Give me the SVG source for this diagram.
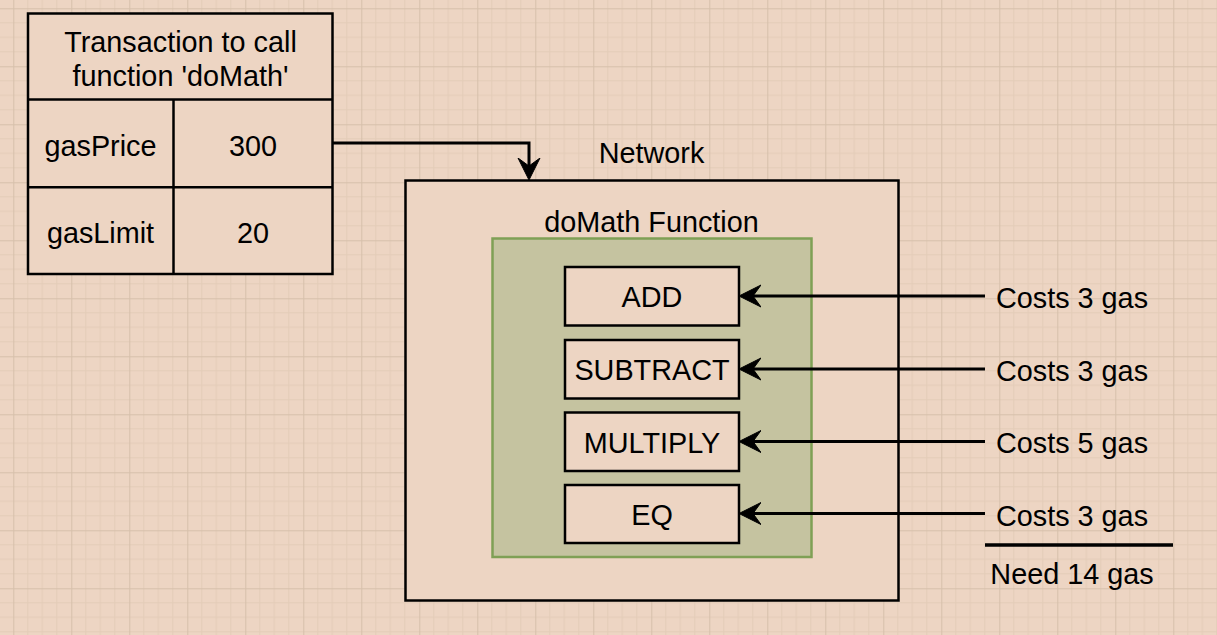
<svg xmlns="http://www.w3.org/2000/svg" width="1217" height="635" viewBox="0 0 1217 635">
  <style>
    .t { font-family: "Liberation Sans", Arial, sans-serif; font-size: 28.8px; fill: #000; text-anchor: middle; }
    .box { fill: #EDD5C3; stroke: #000; stroke-width: 2.5; }
    .conn { fill: none; stroke: #000; stroke-width: 3; }
  </style>
  <defs>
    <pattern id="grid" patternUnits="userSpaceOnUse" x="13.3" y="8.3" width="58" height="58">
      <rect width="58" height="58" fill="#EDD5C3"/>
      <path d="M14.5,0V58M29,0V58M43.5,0V58M0,14.5H58M0,29H58M0,43.5H58" stroke="#E3CCB8" stroke-width="1" fill="none"/>
      <path d="M0.5,0V58M0,0.5H58" stroke="#D6C0AB" stroke-width="1" fill="none"/>
    </pattern>
    <marker id="arr" markerUnits="userSpaceOnUse" markerWidth="24" markerHeight="24" viewBox="0 0 24 24" refX="8" refY="12" orient="auto">
      <path d="M22,12 L0,1 L8,12 L0,23 Z" fill="#000" stroke="#000" stroke-width="1"/>
    </marker>
  </defs>
  <rect width="1217" height="635" fill="url(#grid)"/>

  <g id="transaction">
    <rect class="box" x="28" y="13.5" width="304.5" height="260.5"/>
    <line x1="28" y1="99.5" x2="332.5" y2="99.5" stroke="#000" stroke-width="2.5"/>
    <line x1="28" y1="187.3" x2="332.5" y2="187.3" stroke="#000" stroke-width="2.5"/>
    <line x1="173.5" y1="99.5" x2="173.5" y2="274" stroke="#000" stroke-width="2.5"/>
    <text class="t" x="180.5" y="52">Transaction to call</text>
    <text class="t" x="180.5" y="86">function 'doMath'</text>
    <text class="t" x="100.5" y="155.5">gasPrice</text>
    <text class="t" x="253" y="155.5">300</text>
    <text class="t" x="100.5" y="243">gasLimit</text>
    <text class="t" x="253" y="243">20</text>
  </g>

  <g id="network">
    <rect class="box" x="405.5" y="180.5" width="493" height="420"/>
    <text class="t" x="651.5" y="163">Network</text>
  </g>

  <g id="domath">
    <rect x="492.5" y="238.5" width="319" height="318.5" fill="#C5C3A0" stroke="#7FA055" stroke-width="2.5"/>
    <text class="t" x="651.5" y="232">doMath Function</text>
  </g>

  <g id="add">
    <rect class="box" x="565" y="267" width="174" height="58.5"/>
    <text class="t" x="652" y="307">ADD</text>
  </g>
  <g id="subtract">
    <rect class="box" x="565" y="340" width="174" height="58.5"/>
    <text class="t" x="652" y="380">SUBTRACT</text>
  </g>
  <g id="multiply">
    <rect class="box" x="565" y="412.5" width="174" height="58.5"/>
    <text class="t" x="652" y="452.5">MULTIPLY</text>
  </g>
  <g id="eq">
    <rect class="box" x="565" y="485" width="174" height="58"/>
    <text class="t" x="652" y="525">EQ</text>
  </g>

  <g id="costs">
    <text class="t" x="1072" y="307.5">Costs 3 gas</text>
    <text class="t" x="1072" y="380.5">Costs 3 gas</text>
    <text class="t" x="1072" y="452.5">Costs 5 gas</text>
    <text class="t" x="1072" y="525.5">Costs 3 gas</text>
    <text class="t" x="1072" y="583.5">Need 14 gas</text>
  </g>

  <g id="connectors">
    <path class="conn" d="M332.5,143 H529 V166" marker-end="url(#arr)"/>
    <path class="conn" d="M985,296 H753" marker-end="url(#arr)"/>
    <path class="conn" d="M985,369 H753" marker-end="url(#arr)"/>
    <path class="conn" d="M985,441.5 H753" marker-end="url(#arr)"/>
    <path class="conn" d="M985,513.5 H753" marker-end="url(#arr)"/>
    <line x1="985" y1="545" x2="1173" y2="545" stroke="#000" stroke-width="3.5"/>
  </g>
</svg>
